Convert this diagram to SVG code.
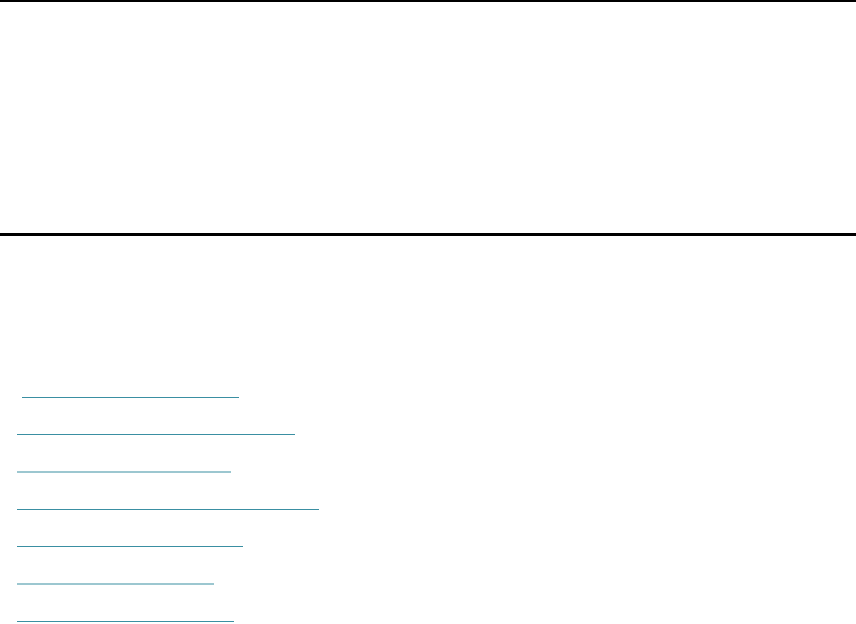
<svg xmlns="http://www.w3.org/2000/svg" width="856" height="624" viewBox="0 0 856 624">
<style>
.rule{stroke:#000;stroke-width:3}
.link{stroke:#3a8fa2;stroke-width:1.2}
</style>
<rect width="856" height="624" fill="#fff"/>
<g id="rules">
<line class="rule" x1="0" y1="0.5" x2="856" y2="0.5"/>
<line class="rule" x1="0" y1="234.5" x2="856" y2="234.5"/>
</g>
<g id="links">
<line class="link" x1="22" y1="397.5" x2="239" y2="397.5"/>
<line class="link" x1="17" y1="434.5" x2="295" y2="434.5"/>
<line class="link" x1="17" y1="472" x2="231" y2="472"/>
<line class="link" x1="17" y1="509.5" x2="319" y2="509.5"/>
<line class="link" x1="17" y1="546.5" x2="243" y2="546.5"/>
<line class="link" x1="17" y1="584" x2="214" y2="584"/>
<line class="link" x1="17" y1="621.5" x2="234" y2="621.5"/>
</g>
</svg>
